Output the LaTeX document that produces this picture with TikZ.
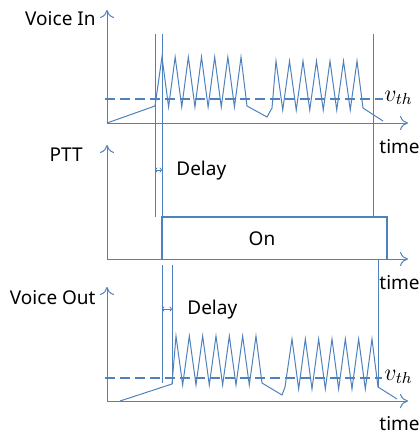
\documentclass[tikz,border=0pt]{standalone}
\usepackage{fontspec}
\setmainfont{Noto Sans}
\usetikzlibrary{arrows.meta}
\definecolor{sig}{RGB}{79,129,189}

\begin{document}
\begin{tikzpicture}[x=0.5pt, y=-0.5pt,
		every node/.style={font=\fontsize{9.5}{11}\selectfont, inner sep=0pt},
		wave/.style={draw=sig, line width=0.5pt},
		axis/.style={draw=sig, line width=0.5pt, -{To[length=4pt,width=7pt]}},
		thres/.style={draw=sig, line width=0.8pt, dash pattern=on 5pt off 2.5pt},
		delay/.style={draw=sig, line width=0.4pt, {To[length=1.2pt,width=2.5pt]}-{To[length=1.2pt,width=2.5pt]}},
		vth/.style={anchor=west, font=\fontsize{12}{14}\selectfont}]
	\useasboundingbox (0,0) rectangle (419,434);
	
	% voice in
	\coordinate (o1) at (107,123);
	\coordinate (y1) at (107,10);
	\coordinate (x1) at (408,123);
	\draw[axis] (o1) -- (y1);
	\draw[axis] (o1) -- (x1);
	\node[anchor=east] (vin) at (96,19) {Voice In};
	\node[anchor=west] (t1) at (379,147) {time};
	\coordinate (th1a) at (105,99);
	\coordinate (th1b) at (383,99);
	\draw[thres] (th1a) -- (th1b);
	\node[vth] (v1) at (384,98) {$v_{th}$};
	\draw[wave] (o1) -- (155,106) -- (162,57)
		\foreach \k in {1,...,6} { -- ({162+13.17*\k-6.58},107) -- ({162+13.17*\k},57) }
		-- (247,106) -- (267,117) -- (272,108) -- (276,61)
		\foreach \k in {1,...,6} { -- ({276+13.5*\k-6.75},110) -- ({276+13.5*\k},61) }
		-- (363,108) -- (383,121);
	
	% ptt
	\coordinate (o2) at (107,259);
	\coordinate (y2) at (107,145);
	\coordinate (x2) at (408,259);
	\draw[axis] (o2) -- (y2);
	\draw[axis] (o2) -- (x2);
	\node[anchor=east] (ptt) at (83,155) {PTT};
	\node[anchor=west] (t2) at (379,283) {time};
	\coordinate (s1) at (155,34);
	\coordinate (s1b) at (155,217);
	\coordinate (s2) at (162,34);
	\coordinate (s2b) at (162,217);
	\coordinate (e1) at (373,34);
	\coordinate (e1b) at (373,217);
	\draw[wave] (s1) -- (s1b);
	\draw[wave] (s2) -- (s2b);
	\draw[wave] (e1) -- (e1b);
	\coordinate (dl1) at (155,170);
	\coordinate (dr1) at (162,170);
	\draw[delay] (dl1) -- (dr1);
	\node[anchor=west] (del1) at (176,171) {Delay};
	\draw[draw=sig, line width=1.2pt] (162,259) |- (387,217) -- (387,259);
	\node (on) at (262,239) {On};
	
	% voice out
	\coordinate (o3) at (107,401);
	\coordinate (y3) at (107,287);
	\coordinate (x3) at (408,401);
	\draw[axis] (o3) -- (y3);
	\draw[axis] (o3) -- (x3);
	\node[anchor=east] (vout) at (96,298) {Voice Out};
	\node[anchor=west] (t3) at (379,424) {time};
	\coordinate (th3a) at (105,378);
	\coordinate (th3b) at (382,378);
	\draw[thres] (th3a) -- (th3b);
	\node[vth] (v3) at (384,377) {$v_{th}$};
	\coordinate (u1) at (162,265);
	\coordinate (u1b) at (162,383);
	\coordinate (u2) at (172,265);
	\coordinate (u2b) at (172,384);
	\coordinate (f1) at (378,259);
	\coordinate (f1b) at (378,387);
	\draw[wave] (u1) -- (u1b);
	\draw[wave] (u2) -- (u2b);
	\draw[wave] (f1) -- (f1b);
	\coordinate (dl3) at (162,309);
	\coordinate (dr3) at (172,309);
	\draw[delay] (dl3) -- (dr3);
	\node[anchor=west] (del3) at (187,310) {Delay};
	\draw[wave] (120,401) -- (u2b) -- (176,336)
		\foreach \k in {1,...,6} { -- ({176+13.33*\k-6.67},385) -- ({176+13.33*\k},336) }
		-- (262,383) -- (282,395) -- (285,387) -- (292,339)
		\foreach \k in {1,...,6} { -- ({292+13.33*\k-6.67},389) -- ({292+13.33*\k},339) }
		-- (f1b) -- (397,399);
\end{tikzpicture}
\end{document}
